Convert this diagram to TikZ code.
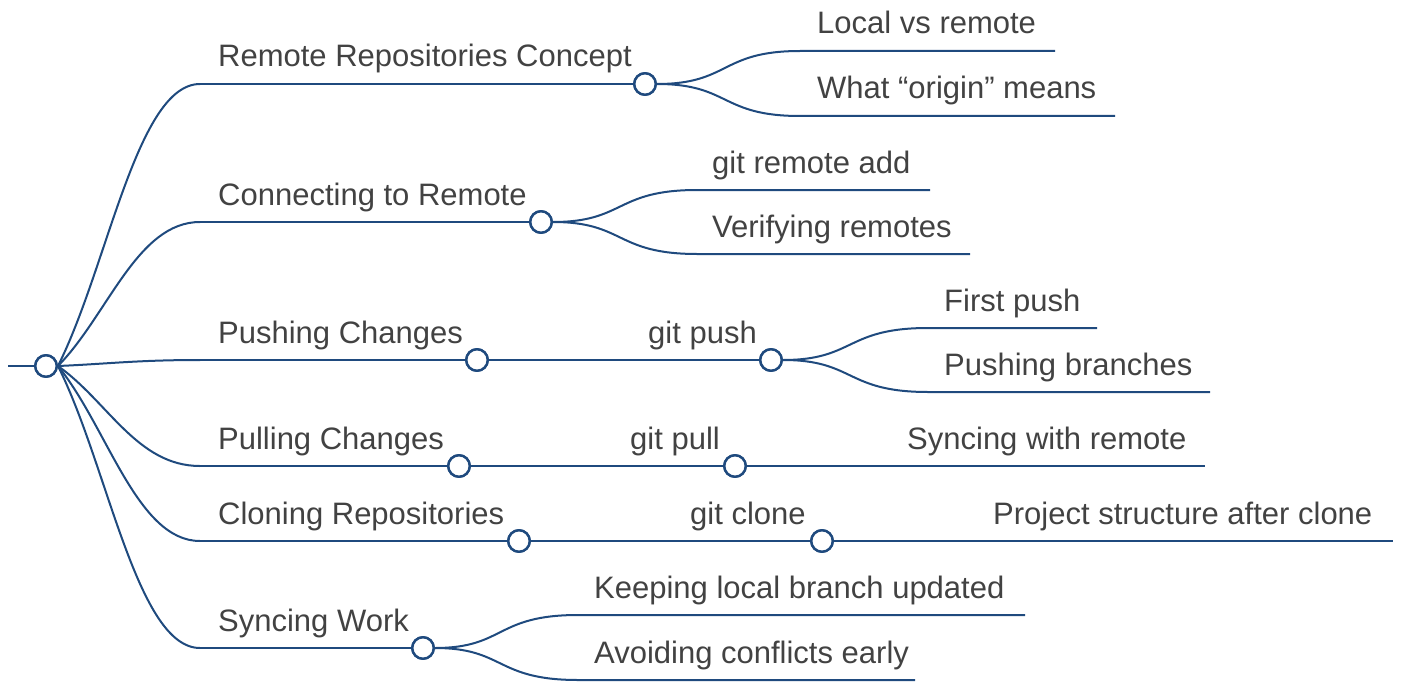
\documentclass[tikz,border=0pt]{standalone}
\usepackage{fontspec}
\setmainfont{Liberation Sans}
\usetikzlibrary{calc,positioning}
\definecolor{cLine}{RGB}{31,74,126}
\definecolor{cText}{RGB}{66,66,66}

\begin{document}
\begin{tikzpicture}[x=1pt,y=-1pt,
  edge/.style={cLine,line width=2pt},
  knot/.style={circle,draw=cLine,line width=2.4pt,fill=white,minimum size=21.5pt,inner sep=0pt},
  lbl/.style={anchor=base west,text=cText,inner sep=0pt,font=\fontsize{31}{34}\selectfont}]
  \useasboundingbox (0,0) rectangle (1402,682);
  % root
  \node[knot] (root) at (46,366) {};
  \coordinate (in) at (8,366);
  \draw[edge] (in) -- (root);
  % first level starts
  \coordinate (sRem) at (200,84);
  \coordinate (sCon) at (200,222);
  \coordinate (sPush) at (200,360);
  \coordinate (sPull) at (200,466);
  \coordinate (sClone) at (200,541);
  \coordinate (sSync) at (200,648);
  \foreach \s in {sRem,sCon,sPush,sPull,sClone,sSync}
    \draw[edge] (root.east) .. controls ($(root.east)!0.35!(\s)$) and ($(\s)+(-63,0)$) .. (\s);
  % Remote Repositories Concept
  \node[lbl] (tRem) at (218,67) {Remote Repositories Concept};
  \node[knot] (kRem) at (645,84) {};
  \draw[edge] (sRem) -- (kRem);
  \coordinate (sLoc) at (800,51);  \coordinate (eLoc) at (1055,51);
  \coordinate (sOri) at (800,116); \coordinate (eOri) at (1115,116);
  \node[lbl] (tLoc) at (817,34) {Local vs remote};
  \node[lbl] (tOri) at (817,99) {What “origin” means};
  \draw[edge] (kRem.east) .. controls (730,84) and (720,51) .. (sLoc) -- (eLoc);
  \draw[edge] (kRem.east) .. controls (730,84) and (720,116) .. (sOri) -- (eOri);
  % Connecting to Remote
  \node[lbl] (tCon) at (218,205) {Connecting to Remote};
  \node[knot] (kCon) at (541,222) {};
  \draw[edge] (sCon) -- (kCon);
  \coordinate (sAdd) at (697,190); \coordinate (eAdd) at (930,190);
  \coordinate (sVer) at (697,254); \coordinate (eVer) at (970,254);
  \node[lbl] (tAdd) at (712,173) {git remote add};
  \node[lbl] (tVer) at (712,237) {Verifying remotes};
  \draw[edge] (kCon.east) .. controls (625,222) and (615,190) .. (sAdd) -- (eAdd);
  \draw[edge] (kCon.east) .. controls (625,222) and (615,254) .. (sVer) -- (eVer);
  % Pushing Changes
  \node[lbl] (tPush) at (218,343) {Pushing Changes};
  \node[knot] (kPush) at (477,360) {};
  \draw[edge] (sPush) -- (kPush);
  \coordinate (sGPush) at (630,360);
  \node[lbl] (tGPush) at (648,343) {git push};
  \node[knot] (kGPush) at (771,360) {};
  \draw[edge] (kPush) -- (sGPush) -- (kGPush);
  \coordinate (sFirst) at (928,328); \coordinate (eFirst) at (1097,328);
  \coordinate (sBr) at (928,392);    \coordinate (eBr) at (1210,392);
  \node[lbl] (tFirst) at (944,311) {First push};
  \node[lbl] (tBr) at (944,375) {Pushing branches};
  \draw[edge] (kGPush.east) .. controls (855,360) and (845,328) .. (sFirst) -- (eFirst);
  \draw[edge] (kGPush.east) .. controls (855,360) and (845,392) .. (sBr) -- (eBr);
  % Pulling Changes
  \node[lbl] (tPull) at (218,449) {Pulling Changes};
  \node[knot] (kPull) at (459,466) {};
  \draw[edge] (sPull) -- (kPull);
  \coordinate (sGPull) at (612,466);
  \node[lbl] (tGPull) at (630,449) {git pull};
  \node[knot] (kGPull) at (735,466) {};
  \draw[edge] (kPull) -- (sGPull) -- (kGPull);
  \coordinate (sSyncR) at (890,466); \coordinate (eSyncR) at (1205,466);
  \node[lbl] (tSyncR) at (907,449) {Syncing with remote};
  \draw[edge] (kGPull) -- (sSyncR) -- (eSyncR);
  % Cloning Repositories
  \node[lbl] (tClone) at (218,524) {Cloning Repositories};
  \node[knot] (kClone) at (519,541) {};
  \draw[edge] (sClone) -- (kClone);
  \coordinate (sGClone) at (672,541);
  \node[lbl] (tGClone) at (690,524) {git clone};
  \node[knot] (kGClone) at (822,541) {};
  \draw[edge] (kClone) -- (sGClone) -- (kGClone);
  \coordinate (sProj) at (975,541); \coordinate (eProj) at (1393,541);
  \node[lbl] (tProj) at (993,524) {Project structure after clone};
  \draw[edge] (kGClone) -- (sProj) -- (eProj);
  % Syncing Work
  \node[lbl] (tSync) at (218,631) {Syncing Work};
  \node[knot] (kSync) at (423,648) {};
  \draw[edge] (sSync) -- (kSync);
  \coordinate (sKeep) at (578,615);  \coordinate (eKeep) at (1025,615);
  \coordinate (sAvoid) at (578,680); \coordinate (eAvoid) at (915,680);
  \node[lbl] (tKeep) at (594,598) {Keeping local branch updated};
  \node[lbl] (tAvoid) at (594,663) {Avoiding conflicts early};
  \draw[edge] (kSync.east) .. controls (505,648) and (495,615) .. (sKeep) -- (eKeep);
  \draw[edge] (kSync.east) .. controls (505,648) and (495,680) .. (sAvoid) -- (eAvoid);
  % redraw knots on top
  \foreach \k/\p in {root/{46,366},kRem/{645,84},kCon/{541,222},kPush/{477,360},kGPush/{771,360},kPull/{459,466},kGPull/{735,466},kClone/{519,541},kGClone/{822,541},kSync/{423,648}}
    \node[knot] at (\p) {};
\end{tikzpicture}
\end{document}
